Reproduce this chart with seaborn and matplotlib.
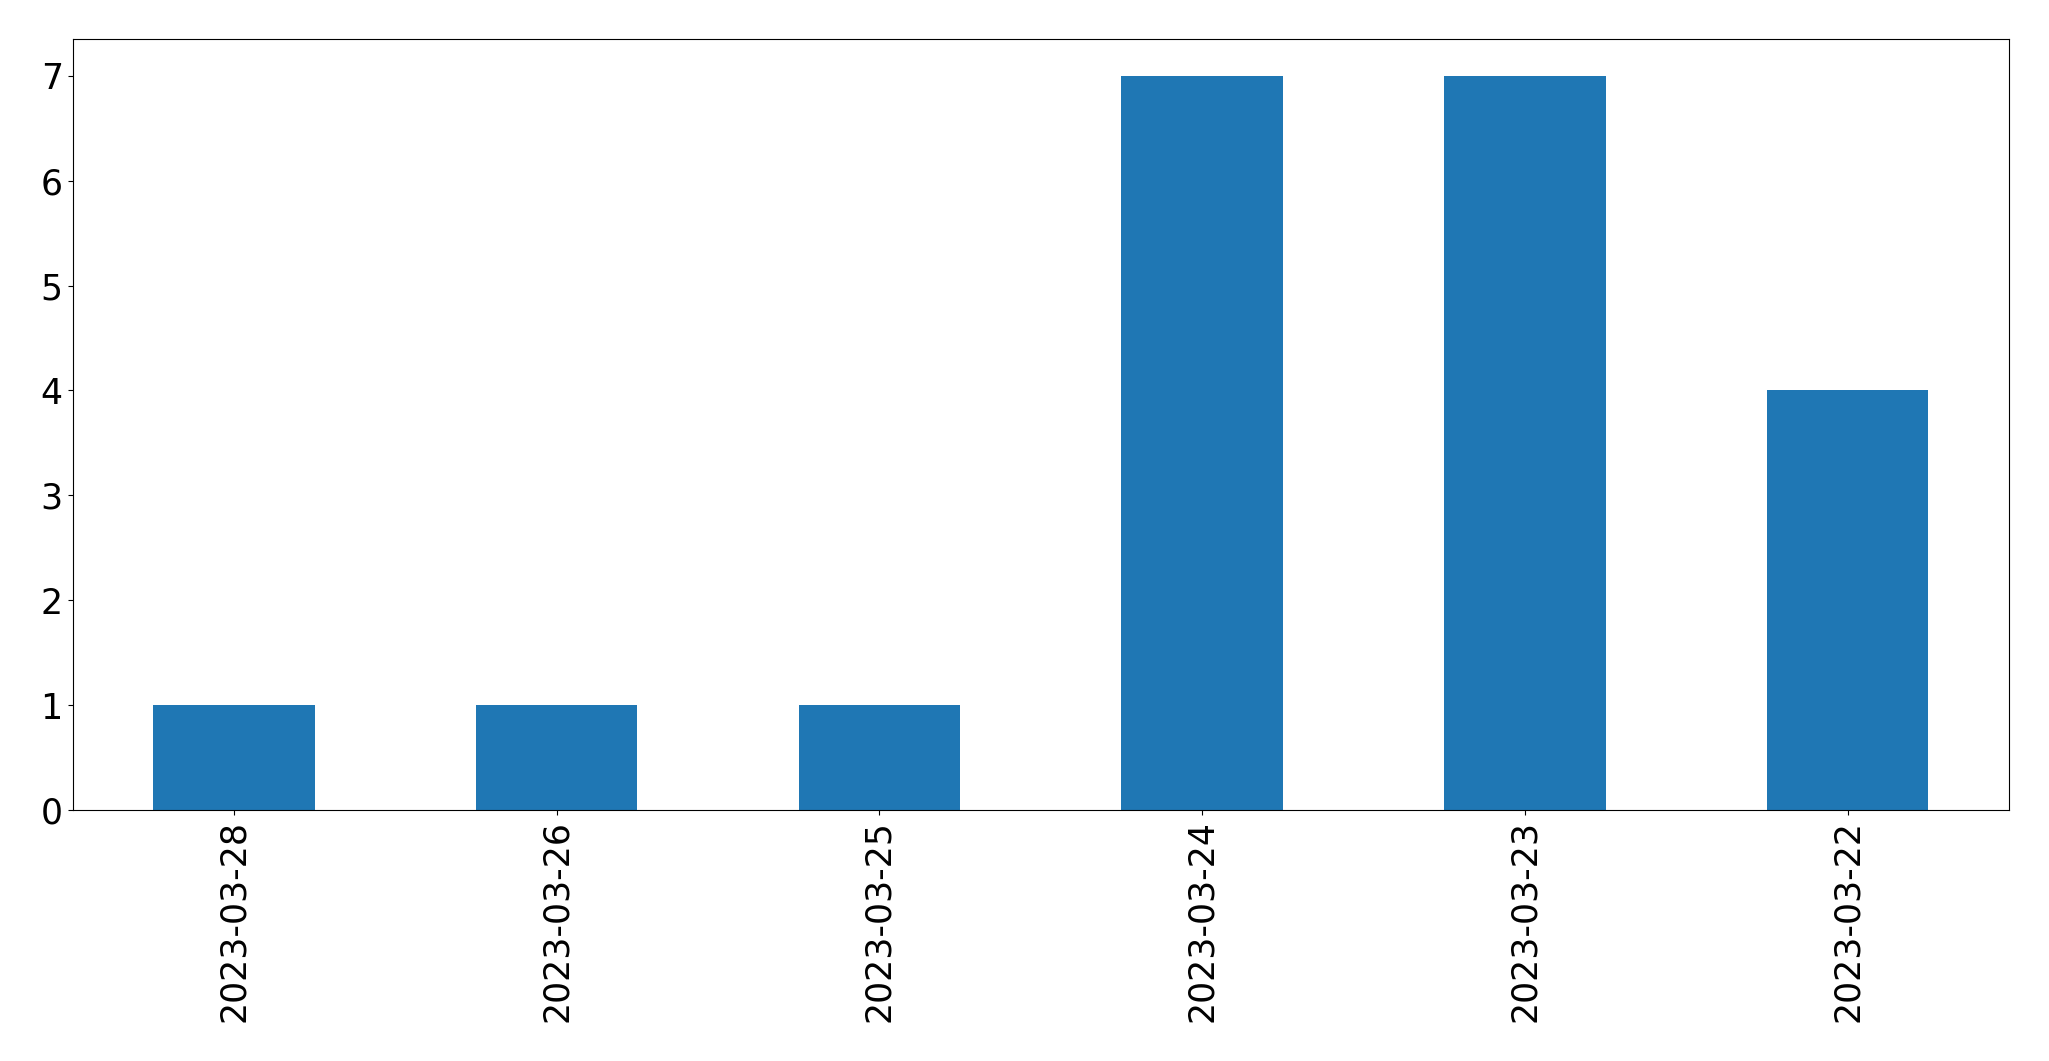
import matplotlib
matplotlib.use("Agg")
import matplotlib.pyplot as plt
import seaborn as sns
import pandas as pd

dates = ["2023-03-28", "2023-03-26", "2023-03-25", "2023-03-24", "2023-03-23", "2023-03-22"]
counts = [1, 1, 1, 7, 7, 4]

df = pd.DataFrame({"date": dates, "count": counts})

fig = plt.figure(figsize=(20.49, 10.61), dpi=100)
ax = fig.add_axes([72.5 / 2049, 1 - 810 / 1061, (2009 - 72.5) / 2049, (810 - 39) / 1061])
sns.barplot(data=df, x="date", y="count", order=dates, color="#1f77b4",
            saturation=1, width=0.5, linewidth=0, ax=ax)
ax.set_xlim(-0.5, 5.5)
ax.set_ylim(0, 7.35)
ax.set_xlabel("")
ax.set_ylabel("")
ax.tick_params(axis="both", labelsize=25)
plt.setp(ax.get_xticklabels(), rotation=90)
fig.savefig("out.png", dpi=100)
